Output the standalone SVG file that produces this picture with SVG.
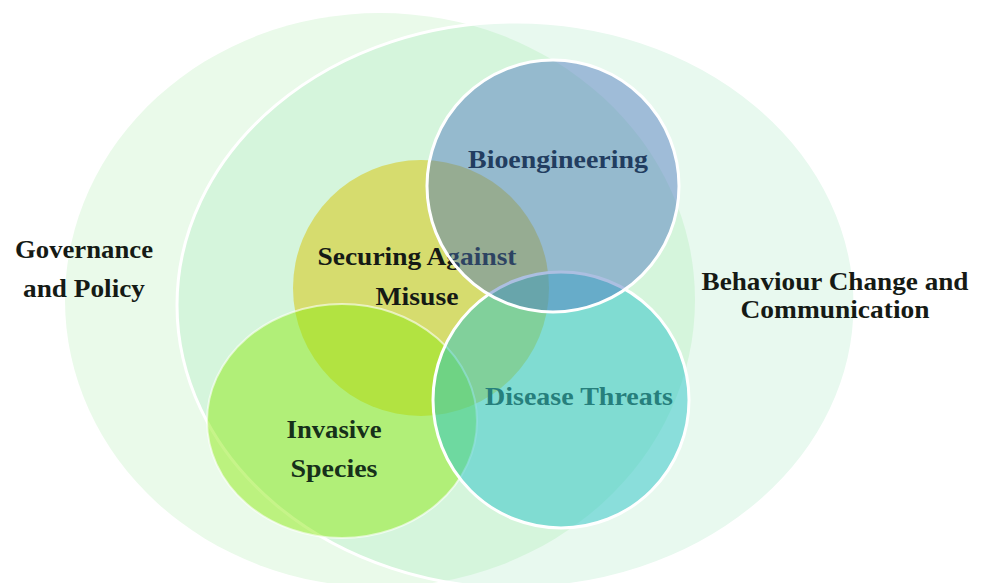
<svg xmlns="http://www.w3.org/2000/svg" width="984" height="583" viewBox="0 0 984 583">
  <style>
    .lbl { font-family: "Liberation Serif", "Times New Roman", serif; font-weight: bold; font-size: 25.5px; text-anchor: middle; }
    .dark { fill: #151a15; }
    .white-edge { fill: none; stroke: #ffffff; stroke-width: 3; }
  </style>
  <defs>
    <clipPath id="clipGov">
      <ellipse cx="380" cy="300" rx="315" ry="287"/>
    </clipPath>
  </defs>
  <rect x="0" y="0" width="984" height="583" fill="#ffffff"/>

  <g id="governance">
    <ellipse cx="380" cy="300" rx="315" ry="287" fill="#eafaea"/>
    <text class="lbl dark" x="84" y="258" textLength="138" lengthAdjust="spacingAndGlyphs">Governance</text>
    <text class="lbl dark" x="84" y="297" textLength="122" lengthAdjust="spacingAndGlyphs">and Policy</text>
  </g>

  <g id="behaviour">
    <ellipse cx="516" cy="305" rx="339" ry="283" fill="#e8f9ef"/>
    <ellipse cx="516" cy="305" rx="339" ry="283" fill="#d5f5dc" clip-path="url(#clipGov)"/>
    <ellipse class="white-edge" cx="516" cy="305" rx="339" ry="283"/>
    <text class="lbl dark" x="835" y="290" textLength="267" lengthAdjust="spacingAndGlyphs">Behaviour Change and</text>
    <text class="lbl dark" x="835" y="318" textLength="189" lengthAdjust="spacingAndGlyphs">Communication</text>
  </g>

  <g id="securing">
    <circle cx="421" cy="288" r="128" fill="#d6dc6e"/>
    <text class="lbl dark" x="417" y="265" textLength="199" lengthAdjust="spacingAndGlyphs">Securing Against</text>
    <text class="lbl dark" x="417" y="305" textLength="83" lengthAdjust="spacingAndGlyphs">Misuse</text>
  </g>

  <g id="invasive">
    <ellipse cx="342" cy="421" rx="135" ry="117" fill="#8de914" fill-opacity="0.5" stroke="#ffffff" stroke-opacity="0.6" stroke-width="2"/>
    <text class="lbl" fill="#16301a" x="334" y="438" textLength="95" lengthAdjust="spacingAndGlyphs">Invasive</text>
    <text class="lbl" fill="#16301a" x="334" y="477" textLength="87" lengthAdjust="spacingAndGlyphs">Species</text>
  </g>

  <g id="disease">
    <circle cx="561" cy="400" r="128" fill="#2bc3c8" fill-opacity="0.5" stroke="#ffffff" stroke-width="3"/>
    <text class="lbl" fill="#267f7c" x="579" y="405" textLength="188" lengthAdjust="spacingAndGlyphs">Disease Threats</text>
  </g>

  <g id="bioengineering">
    <circle cx="553" cy="186" r="126" fill="#4a74bd" fill-opacity="0.46" stroke="#ffffff" stroke-width="3"/>
    <text class="lbl" fill="#223d60" x="558" y="168" textLength="180" lengthAdjust="spacingAndGlyphs">Bioengineering</text>
  </g>

  <g id="connectors"/>
</svg>
